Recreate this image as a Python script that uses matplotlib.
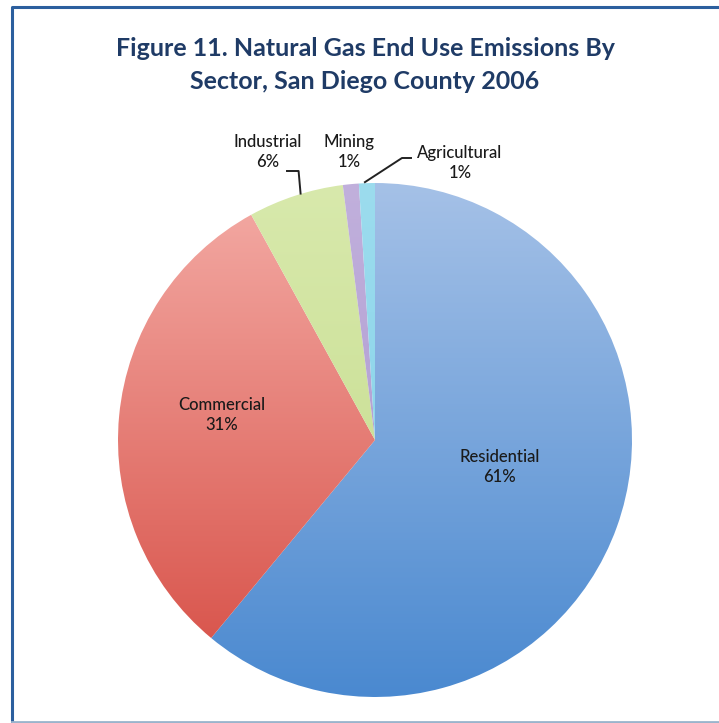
import matplotlib.pyplot as plt
import matplotlib
import numpy as np
from matplotlib.colors import LinearSegmentedColormap

matplotlib.rcParams['font.family'] = ['Lato', 'DejaVu Sans']

# Natural gas end use emissions, San Diego County 2006 (%)
SECTORS = ['Residential', 'Commercial', 'Industrial', 'Mining', 'Agricultural']
SHARES = [61, 31, 6, 1, 1]

# gradient colours per sector, top of pie -> bottom of pie
GRADIENTS = [
    ('#a5c1e7', '#4a89d0'),
    ('#f4aca6', '#d64c43'),
    ('#d8e9ac', '#c2da88'),
    ('#c1b0dc', '#a793cc'),
    ('#9cdcee', '#80d0e6'),
]

W, H = 719, 723
fig = plt.figure(figsize=(W / 100, H / 100), dpi=100)
fig.patch.set_facecolor('white')
ax = fig.add_axes([0, 0, 1, 1])

cx, cy, R = 375, H - 440, 257

wedges, _ = ax.pie(SHARES, startangle=90, counterclock=False,
                   center=(cx, cy), radius=R, frame=True,
                   wedgeprops=dict(linewidth=0))
ax.set_xlim(0, W)
ax.set_ylim(0, H)
ax.set_aspect('auto')
ax.axis('off')

# fill each wedge with a vertical gradient
grad = np.linspace(0, 1, 256).reshape(-1, 1)
for w, (c_top, c_bot) in zip(wedges, GRADIENTS):
    w.set_facecolor('none')
    cmap = LinearSegmentedColormap.from_list('g', [c_top, c_bot])
    im = ax.imshow(grad, cmap=cmap, aspect='auto', origin='upper',
                   extent=(cx - R, cx + R, cy - R, cy + R), zorder=1)
    im.set_clip_path(w)

txt = dict(ha='center', va='center', fontsize=12, color='#1a1a1a',
           fontweight='medium', linespacing=1.35, zorder=5)

def edge_point(w, frac=1.0):
    ang = np.deg2rad((w.theta1 + w.theta2) / 2)
    return cx + R * frac * np.cos(ang), cy + R * frac * np.sin(ang)

# inside labels
for i, (x, y) in [(0, (500, H - 467)), (1, (222, H - 415))]:
    ax.text(x, y, f'{SECTORS[i]}\n{SHARES[i]}%', **txt)

# outside labels
ax.text(268, H - 152, f'{SECTORS[2]}\n{SHARES[2]}%', **txt)
ax.text(349, H - 152, f'{SECTORS[3]}\n{SHARES[3]}%', **txt)
ax.text(460, H - 163, f'{SECTORS[4]}\n{SHARES[4]}%', **txt)

# leader lines
ex, ey = edge_point(wedges[2])
ax.plot([287, ex + 3, ex + 5], [H - 171, H - 171, ey + 2], color='#222222',
        lw=1.4, zorder=5)
ex, ey = edge_point(wedges[4])
ax.plot([ex - 2, 402, 411], [ey + 1, H - 158, H - 158], color='#222222',
        lw=1.4, zorder=5)

# title
ax.text(365, H - 65, 'Figure 11. Natural Gas End Use Emissions By\n'
        'Sector, San Diego County 2006', ha='center', va='center',
        fontsize=18, fontweight='bold', color='#1f3b66', linespacing=1.55)

# frame
ax.plot([11.5, 11.5, W + 5], [0, H - 7, H - 7], color='#2c5f9e', lw=2.2,
        solid_capstyle='butt', zorder=6)
ax.plot([11.5, W], [1, 1], color='#9ab4cc', lw=2, zorder=6)

fig.savefig('out.png', dpi=100, facecolor='white')
